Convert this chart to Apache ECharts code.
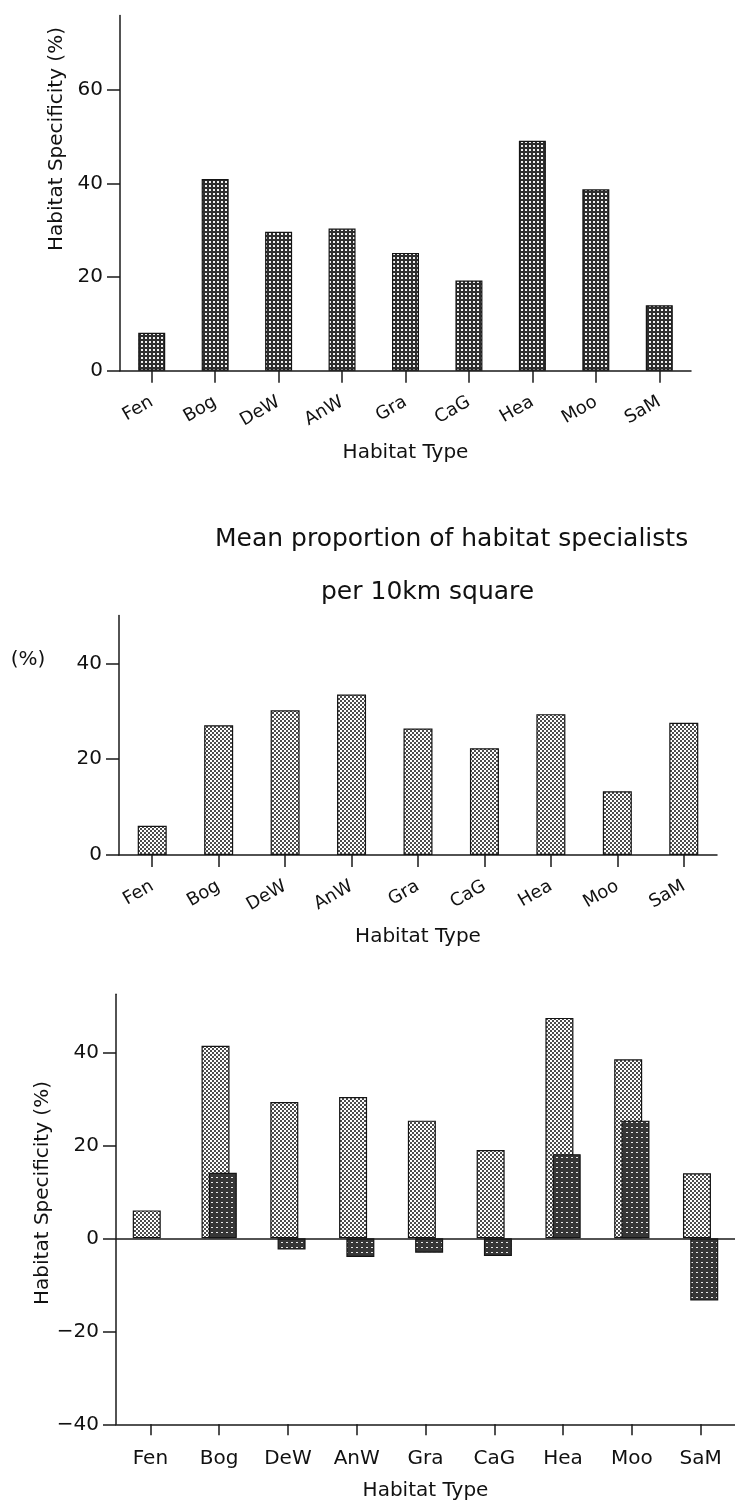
<!DOCTYPE html>
<html><head><meta charset="utf-8">
<script src="https://cdn.jsdelivr.net/npm/echarts@6/dist/echarts.min.js"></script>
<style>html,body{margin:0;padding:0;background:#fff}#c{width:735px;height:1506px}</style>
</head><body><div id="c"></div>
<script>
// ---- data ----
const categories = ['Fen', 'Bog', 'DeW', 'AnW', 'Gra', 'CaG', 'Hea', 'Moo', 'SaM'];
const specificityTop = [8.1, 41.0, 29.7, 30.4, 25.2, 19.3, 49.2, 38.8, 14.0];
const specialistsMean = [6.1, 27.1, 30.2, 33.5, 26.4, 22.3, 29.4, 13.3, 27.6];
const specificityLight = [6.0, 41.4, 29.3, 30.4, 25.3, 19.0, 47.4, 38.5, 14.0];
const specificityDark = [null, 14.1, -2.4, -4.0, -3.1, -3.8, 18.1, 25.3, -13.4];
const yTicksTop = [0, 20, 40, 60];
const yTicksMid = [0, 20, 40];
const yTicksBottom = [-40, -20, 0, 20, 40];

// ---- fill patterns ----
function tile(w, h, bg, draw) {
  const c = document.createElement('canvas');
  c.width = w; c.height = h;
  const g = c.getContext('2d');
  g.fillStyle = bg; g.fillRect(0, 0, w, h);
  draw(g);
  return { image: c, repeat: 'repeat' };
}
const darkDense = tile(4, 4, '#2e2e2e', g => { g.fillStyle = '#f0f0f0'; g.fillRect(1, 1, 2, 2); });
const stipple = tile(4, 4, '#ffffff', g => {
  g.fillStyle = '#000';
  g.beginPath(); g.arc(1, 1, 0.95, 0, 7); g.fill();
  g.beginPath(); g.arc(3, 3, 0.95, 0, 7); g.fill();
});
const darkSparse = tile(5, 5, '#363636', g => { g.fillStyle = '#e8e8e8'; g.fillRect(1, 2, 2, 1); });

const font = 'DejaVu Sans';
const ink = '#111';
const lineStyle = { color: '#1a1a1a', width: 1.5 };
const minus = v => String(v).replace('-', '\u2212');

function catAxis(grid, rotate, margin, fontSize, nameGap, tickLen, extra) {
  return Object.assign({
    gridIndex: grid, type: 'category', data: categories, boundaryGap: true,
    axisLine: { show: true, lineStyle: lineStyle },
    axisTick: { show: true, alignWithLabel: true, length: tickLen, lineStyle: lineStyle },
    axisLabel: { rotate: rotate, margin: margin, fontSize: fontSize, color: ink, fontFamily: font, interval: 0 },
    splitLine: { show: false },
    name: 'Habitat Type', nameLocation: 'middle', nameGap: nameGap,
    nameTextStyle: { fontSize: 20, color: ink, fontFamily: font }
  }, extra || {});
}
function valAxis(grid, min, max, ticks) {
  return {
    gridIndex: grid, type: 'value', min: min, max: max, interval: 20,
    splitLine: { show: false },
    axisLine: { show: true, lineStyle: lineStyle },
    axisTick: { show: true, length: 13, lineStyle: lineStyle, customValues: ticks },
    axisLabel: { fontSize: 20, margin: 17, color: ink, fontFamily: font, customValues: ticks, formatter: minus }
  };
}

const barBorder = { borderColor: '#151515', borderWidth: 1.2 };

const option = {
  animation: false,
  backgroundColor: '#ffffff',
  textStyle: { fontFamily: font, color: ink },
  title: [
    { text: 'Mean proportion of habitat specialists', left: 215, top: 527, padding: 0,
      textStyle: { fontSize: 25, fontWeight: 'normal', color: ink, fontFamily: font } },
    { text: 'per 10km square', left: 321, top: 580, padding: 0,
      textStyle: { fontSize: 25, fontWeight: 'normal', color: ink, fontFamily: font } }
  ],
  grid: [
    { left: 120, top: 15.4, width: 571, height: 355.3 },
    { left: 119, top: 615.5, width: 598, height: 239.5 },
    { left: 116, top: 994.2, width: 621, height: 430.1 }
  ],
  xAxis: [
    catAxis(0, 30, 30, 18, 72, 12),
    catAxis(1, 30, 30, 18, 72, 12),
    catAxis(2, 0, 24, 20, 56, 11, { axisLine: { show: true, onZero: false, lineStyle: lineStyle } })
  ],
  yAxis: [
    valAxis(0, 0, 76, yTicksTop),
    valAxis(1, 0, 50, yTicksMid),
    valAxis(2, -40, 52.5, yTicksBottom)
  ],
  series: [
    { type: 'bar', xAxisIndex: 0, yAxisIndex: 0, data: specificityTop, barWidth: 27,
      itemStyle: Object.assign({ color: darkDense }, barBorder) },
    { type: 'bar', xAxisIndex: 1, yAxisIndex: 1, data: specialistsMean, barWidth: 29,
      itemStyle: Object.assign({ color: stipple }, barBorder) },
    { type: 'bar', xAxisIndex: 2, yAxisIndex: 2, data: specificityLight, barWidth: 28, barGap: '-74%',
      itemStyle: Object.assign({ color: stipple }, barBorder) },
    { type: 'bar', xAxisIndex: 2, yAxisIndex: 2, data: specificityDark, barWidth: 28, barGap: '-74%',
      itemStyle: Object.assign({ color: darkSparse }, barBorder),
      markLine: { silent: true, symbol: 'none', label: { show: false },
        lineStyle: { color: '#1a1a1a', width: 1.5, type: 'solid' }, data: [{ yAxis: 0 }] } }
  ],
  graphic: [
    { type: 'text', x: 57, y: 139, rotation: Math.PI / 2,
      style: { text: 'Habitat Specificity (%)', fontSize: 20, fontFamily: font, fill: ink, align: 'center', verticalAlign: 'middle' } },
    { type: 'text', x: 28, y: 660,
      style: { text: '(%)', fontSize: 20, fontFamily: font, fill: ink, align: 'center', verticalAlign: 'middle' } },
    { type: 'text', x: 43, y: 1193, rotation: Math.PI / 2,
      style: { text: 'Habitat Specificity (%)', fontSize: 20, fontFamily: font, fill: ink, align: 'center', verticalAlign: 'middle' } }
  ]
};
const chart = echarts.init(document.getElementById('c'), null, { renderer: 'canvas' });
chart.setOption(option);
</script>
</body></html>
